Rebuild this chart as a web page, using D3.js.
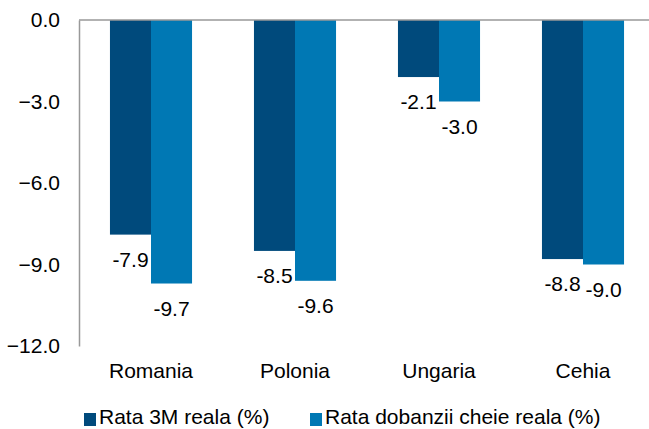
<!DOCTYPE html>
<html>
<head>
<meta charset="utf-8">
<script src="https://cdn.jsdelivr.net/npm/d3@7"></script>
<style>
  body { margin: 0; background: #fff; }
  svg { font-family: "Liberation Sans", Arial, sans-serif; }
</style>
</head>
<body>
<svg class="chart"></svg>
<script>
const categories = ["Romania", "Polonia", "Ungaria", "Cehia"]
const seriesNames = ["Rata 3M reala (%)", "Rata dobanzii cheie reala (%)"]
const rata3M = [-7.9, -8.5, -2.1, -8.8]
const rataCheie = [-9.7, -9.6, -3.0, -9.0]
const yTicks = [0, -3, -6, -9, -12]
const colors = ["#004a7c", "#0078b4"]

const width = 649, height = 429
const fontSize = "21px"
const svg = d3.select("svg.chart")
    .attr("width", width)
    .attr("height", height)

const xScale = d3.scaleBand()
    .domain(categories)
    .range([79, 655])
    .paddingInner(0.43)
    .paddingOuter(0.215)

const sub = d3.scaleBand()
    .domain([0, 1])
    .range([0, xScale.bandwidth()])

const yScale = d3.scaleLinear()
    .domain([-12, 0])
    .range([346, 20])

const series = [rata3M, rataCheie]

// bars
series.forEach((vals, s) => {
    svg.append("g")
        .selectAll("rect")
        .data(vals)
        .enter()
        .append("rect")
        .attr("x", (d, i) => xScale(categories[i]) + sub(s))
        .attr("y", yScale(0))
        .attr("width", sub.bandwidth())
        .attr("height", d => yScale(d) - yScale(0))
        .style("fill", colors[s])
})

// value labels
series.forEach((vals, s) => {
    svg.append("g")
        .selectAll("text")
        .data(vals)
        .enter()
        .append("text")
        .attr("x", (d, i) => xScale(categories[i]) + sub(s) + sub.bandwidth() / 2)
        .attr("y", d => yScale(d) + 32)
        .attr("text-anchor", "middle")
        .style("font-size", fontSize)
        .style("fill", "#000")
        .text(d => d.toFixed(1))
})

// y axis
const yAxis = svg.append("g")
    .attr("transform", "translate(79,0)")
    .call(d3.axisLeft(yScale).tickValues(yTicks).tickSize(0).tickPadding(19).tickFormat(d3.format(".1f")))
yAxis.attr("font-family", null).attr("font-size", null)
yAxis.select(".domain").attr("stroke", "#999").attr("stroke-width", 1.5)
yAxis.selectAll("text").style("font-size", fontSize).style("fill", "#000")

// zero line
svg.append("line")
    .attr("x1", 79).attr("x2", width)
    .attr("y1", yScale(0)).attr("y2", yScale(0))
    .attr("stroke", "#999").attr("stroke-width", 1.5)

// category labels
svg.append("g")
    .selectAll("text")
    .data(categories)
    .enter()
    .append("text")
    .attr("x", d => xScale(d) + xScale.bandwidth() / 2)
    .attr("y", 378)
    .attr("text-anchor", "middle")
    .style("font-size", fontSize)
    .text(d => d)

// legend
const legendX = [84, 310]
const legend = svg.append("g")
    .selectAll("g")
    .data(seriesNames)
    .enter()
    .append("g")
    .attr("transform", (d, i) => "translate(" + legendX[i] + ",424)")
legend.append("rect")
    .attr("x", 0).attr("y", -11)
    .attr("width", 12).attr("height", 13)
    .style("fill", (d, i) => colors[i])
legend.append("text")
    .attr("x", 15).attr("y", 0)
    .style("font-size", fontSize)
    .text(d => d)
</script>
</body>
</html>
